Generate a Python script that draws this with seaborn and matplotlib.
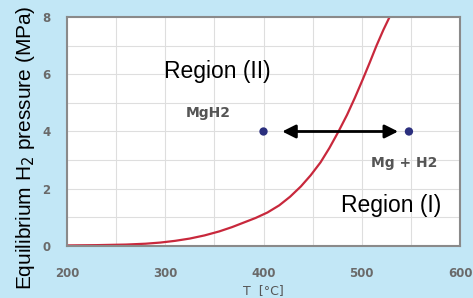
import numpy as np
import pandas as pd
import seaborn as sns
import matplotlib.pyplot as plt
from matplotlib.ticker import MultipleLocator

sns.set_theme(style="white")
plt.rcParams['font.family'] = ['Liberation Sans', 'DejaVu Sans']

# equilibrium curve
temperature = [200, 230, 260, 280, 295, 310, 325, 340, 355, 368, 380, 392, 404,
               416, 427, 438, 448, 458, 467, 476, 485, 493, 501, 508, 515, 522, 529]
pressure = [0.02, 0.03, 0.05, 0.08, 0.12, 0.18, 0.26, 0.37, 0.51, 0.66, 0.82, 0.98, 1.17,
            1.42, 1.72, 2.08, 2.47, 2.92, 3.42, 3.98, 4.58, 5.18, 5.82, 6.40, 7.00, 7.55, 8.05]

# the two states marked at 4 MPa
state_t = [400, 548]
state_p = [4, 4]
state_names = ["MgH2", "Mg + H2"]

curve = pd.DataFrame({"T": temperature, "P": pressure})
states = pd.DataFrame({"T": state_t, "P": state_p, "name": state_names})

fig = plt.figure(figsize=(4.73, 2.98), dpi=100, facecolor="#c2e7f6")
ax = fig.add_axes([0.1416, 0.1745, 0.831, 0.7685])
ax.set_facecolor("white")

sns.lineplot(data=curve, x="T", y="P", ax=ax, color="#c8283c", lw=1.6)
sns.scatterplot(data=states, x="T", y="P", ax=ax, color="#2b2f7e", s=36,
                edgecolor="none", zorder=5)

ax.annotate("", xy=(537, 4), xytext=(419, 4),
            arrowprops=dict(arrowstyle="<|-|>", mutation_scale=20, lw=2,
                            color="black", shrinkA=0, shrinkB=0))

ax.text(344, 4.65, state_names[0], ha="center", va="center", fontsize=10,
        color="#555555", weight="bold", family="DejaVu Sans")
ax.text(543, 2.9, state_names[1], ha="center", va="center", fontsize=10,
        color="#555555", weight="bold", family="DejaVu Sans")
ax.text(353, 6.08, "Region (II)", ha="center", va="center", fontsize=16.5, color="black")
ax.text(530, 1.43, "Region (I)", ha="center", va="center", fontsize=16.5, color="black")

ax.set_xlim(200, 600)
ax.set_ylim(0, 8)
ax.xaxis.set_major_locator(MultipleLocator(100))
ax.xaxis.set_minor_locator(MultipleLocator(50))
ax.yaxis.set_major_locator(MultipleLocator(2))
ax.yaxis.set_minor_locator(MultipleLocator(1))
ax.grid(True, which="both", color="#dedede", lw=0.8)
ax.tick_params(which="both", length=0)
ax.tick_params(axis="x", pad=15)
ax.tick_params(axis="y", pad=12)
for lab in ax.get_xticklabels() + ax.get_yticklabels():
    lab.set_fontsize(8.5)
    lab.set_color("#6a6a6a")
    lab.set_weight("bold")
    lab.set_family("DejaVu Sans")

for sp in ax.spines.values():
    sp.set_color("#8a8a8a")
    sp.set_linewidth(1.5)

ax.set_xlabel("T  [°C]", fontsize=9, color="#555555", family="DejaVu Sans")
ax.xaxis.set_label_coords(0.5, -0.165)
ax.set_ylabel("Equilibrium H$_2$ pressure (MPa)", fontsize=15, color="black")
ax.yaxis.set_label_coords(-0.076, 0.43)

fig.savefig("out.png", dpi=100, facecolor=fig.get_facecolor())
